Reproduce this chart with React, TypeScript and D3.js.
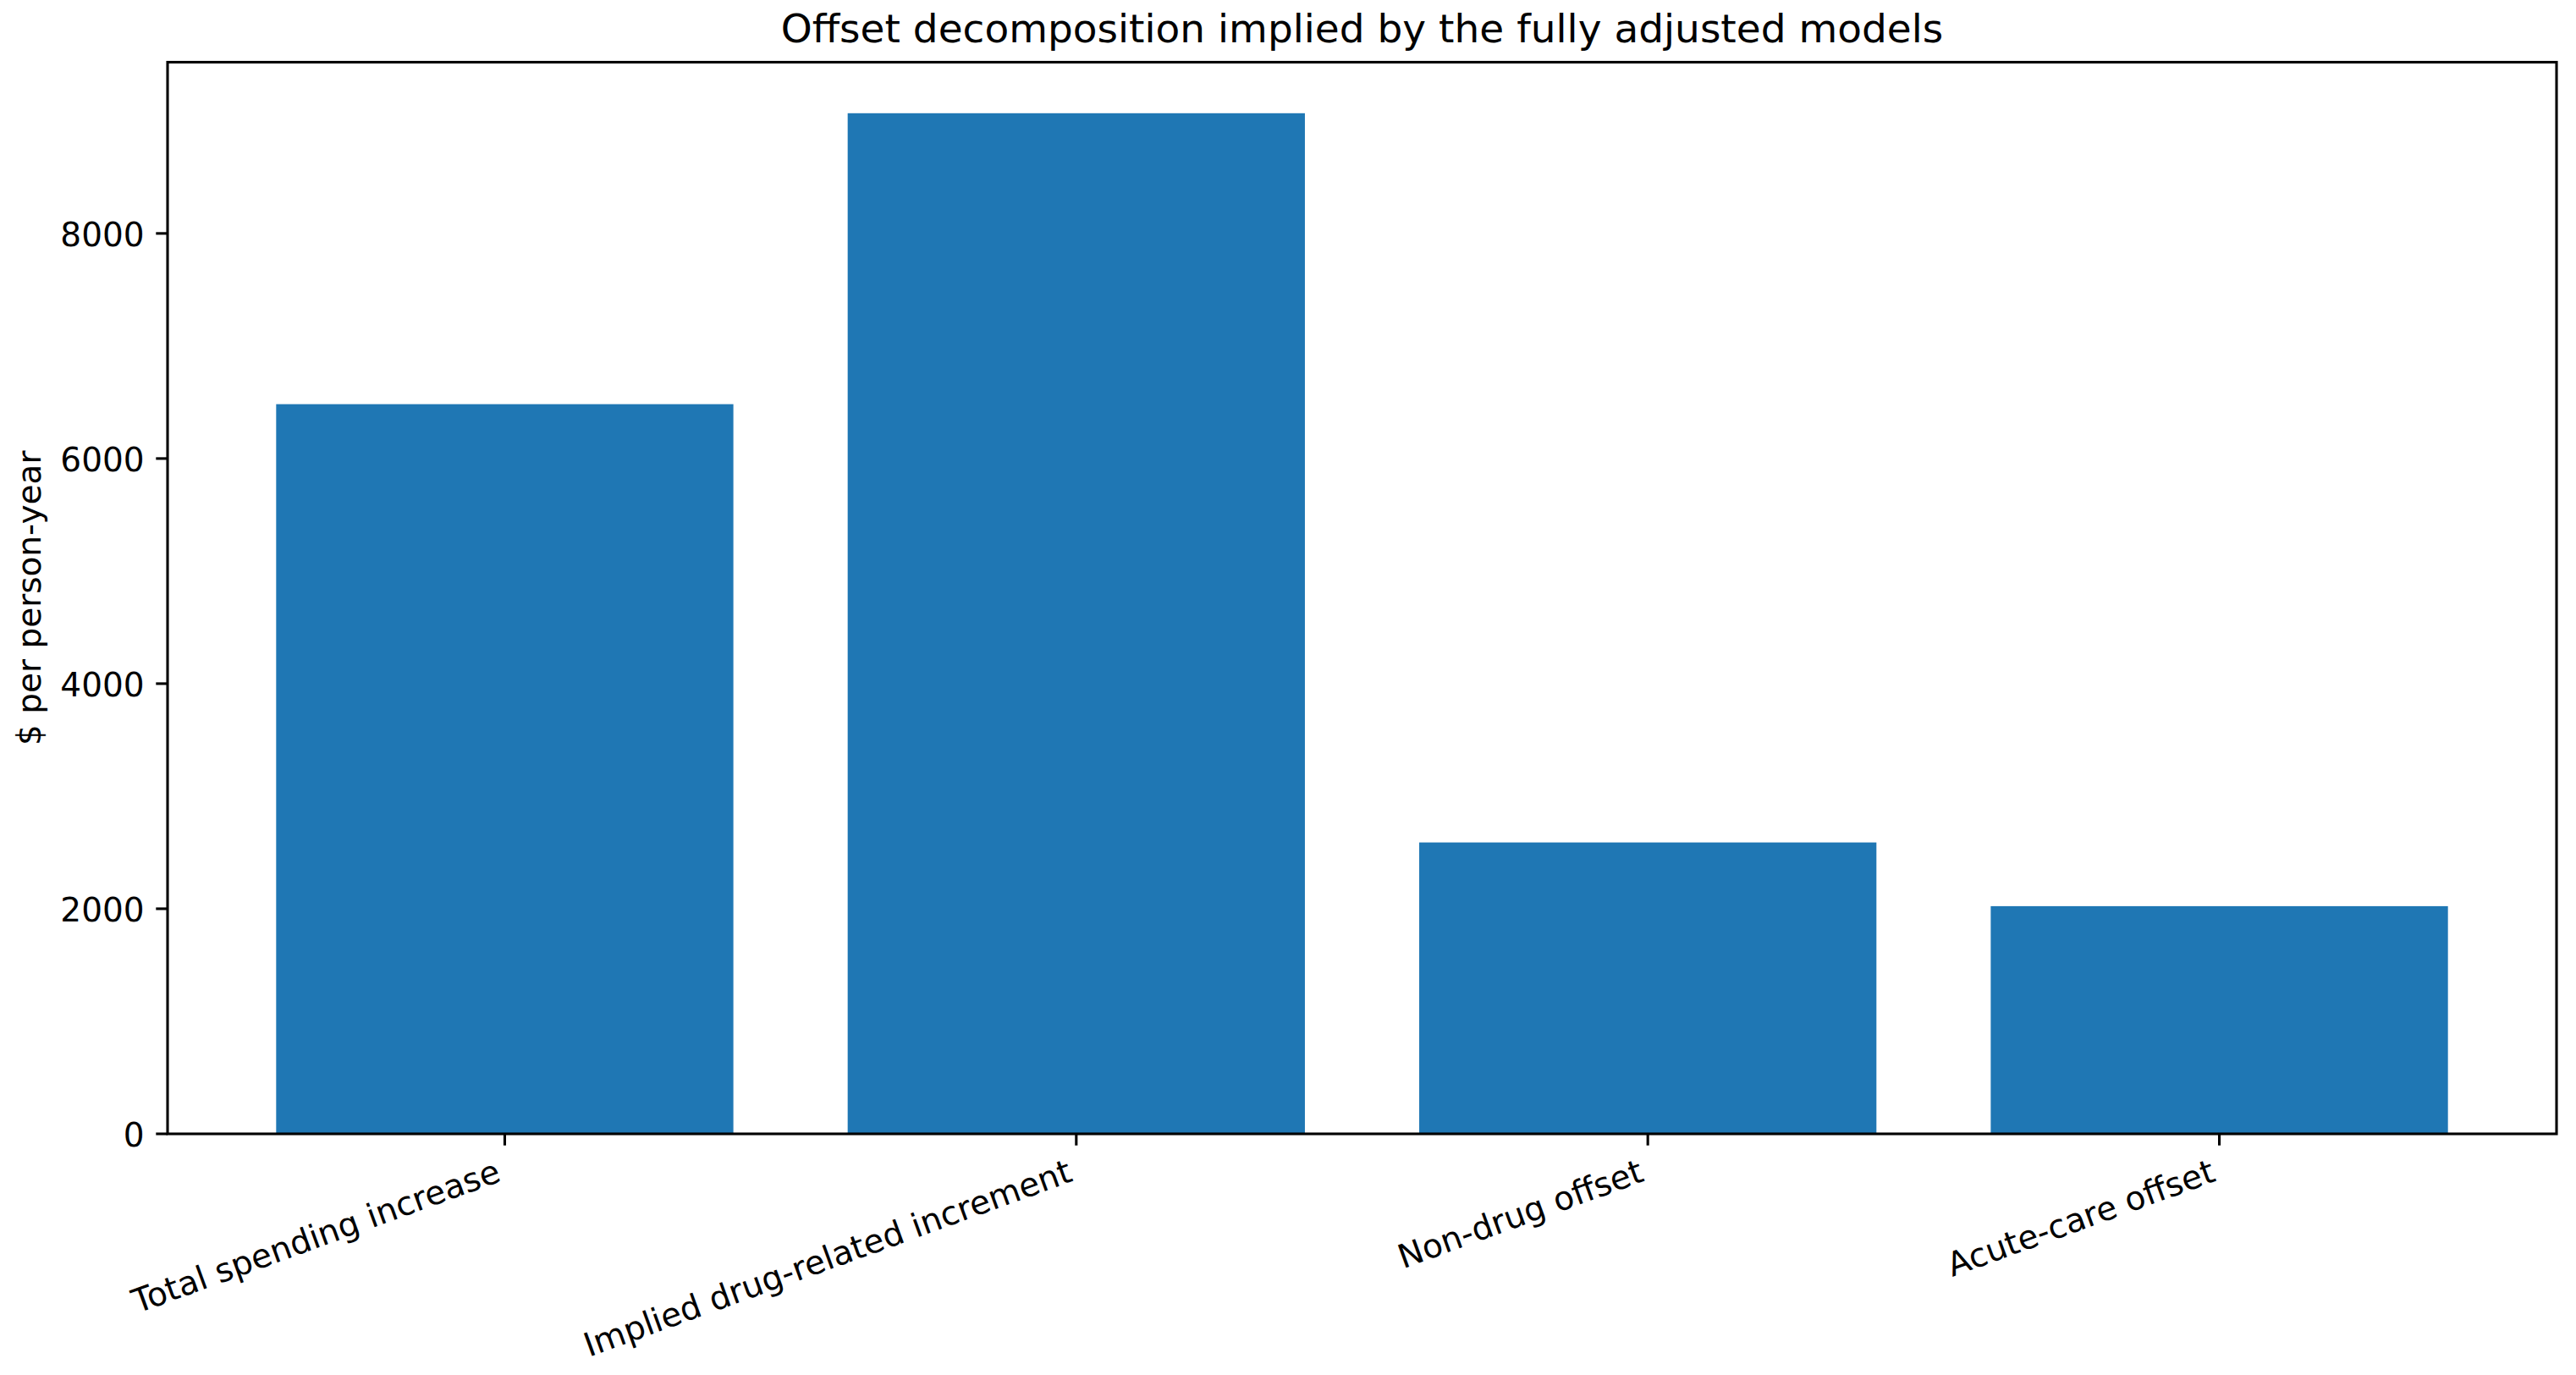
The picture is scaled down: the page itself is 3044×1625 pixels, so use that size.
import React from "react";
import * as d3 from "d3";

const categories = [
  "Total spending increase",
  "Implied drug-related increment",
  "Non-drug offset",
  "Acute-care offset",
];
const values = [6483, 9068, 2589, 2023];
const yTicks = [0, 2000, 4000, 6000, 8000];
const title = "Offset decomposition implied by the fully adjusted models";
const yLabel = "$ per person-year";

const W = 3044;
const H = 1625;
const M = { left: 198, right: 3021, top: 73.5, bottom: 1340 };
const FS = 39;
const TITLE_FS = 47;
const FONT = "'DejaVu Sans', sans-serif";
const TICK_LEN = 13.7;
const PAD = 13.7;
const LW = 3.1;
const ROT = 20;
const TH = 0.968 * FS; // text box height (lp)
const TD = 0.208 * FS; // descent

export default function App() {
  const n = categories.length;
  const x = d3
    .scaleLinear()
    .domain([-0.4 - 0.05 * (n - 1 + 0.8), n - 1 + 0.4 + 0.05 * (n - 1 + 0.8)])
    .range([M.left, M.right]);
  const yMax = d3.max(values)! * 1.05;
  const y = d3.scaleLinear().domain([0, yMax]).range([M.bottom, M.top]);
  const bw = x(0.8) - x(0);
  const rad = (ROT * Math.PI) / 180;
  const labelTop = M.bottom + TICK_LEN + PAD;

  return (
    <svg
      width={W}
      height={H}
      style={{ position: "absolute", left: 0, top: 0, background: "#fff" }}
      fontFamily={FONT}
    >
      <rect x={0} y={0} width={W} height={H} fill="#fff" />
      {values.map((v, i) => (
        <rect
          key={i}
          x={x(i) - bw / 2}
          y={y(v)}
          width={bw}
          height={y(0) - y(v)}
          fill="#1f77b4"
        />
      ))}
      <rect
        x={M.left}
        y={M.top}
        width={M.right - M.left}
        height={M.bottom - M.top}
        fill="none"
        stroke="#000"
        strokeWidth={LW}
        strokeLinejoin="miter"
      />
      {yTicks.map((t) => (
        <g key={t}>
          <line
            x1={M.left - TICK_LEN}
            x2={M.left}
            y1={y(t)}
            y2={y(t)}
            stroke="#000"
            strokeWidth={LW}
          />
          <text
            x={M.left - TICK_LEN - PAD}
            y={y(t) + (TH - TD) / 2}
            fontSize={FS}
            textAnchor="end"
            fill="#000"
          >
            {t}
          </text>
        </g>
      ))}
      {categories.map((c, i) => (
        <g key={c}>
          <line
            x1={x(i)}
            x2={x(i)}
            y1={M.bottom}
            y2={M.bottom + TICK_LEN}
            stroke="#000"
            strokeWidth={LW}
          />
          <g
            transform={`translate(${x(i)},${labelTop + TH * Math.cos(rad)}) rotate(${-ROT})`}
          >
            <text x={0} y={-TD} fontSize={FS} textAnchor="end" fill="#000">
              {c}
            </text>
          </g>
        </g>
      ))}
      <text
        x={(M.left + M.right) / 2}
        y={M.top - 23.5}
        fontSize={TITLE_FS}
        textAnchor="middle"
        fill="#000"
      >
        {title}
      </text>
      <g transform={`translate(${48},${(M.top + M.bottom) / 2}) rotate(-90)`}>
        <text x={0} y={0} fontSize={FS} textAnchor="middle" fill="#000">
          {yLabel}
        </text>
      </g>
    </svg>
  );
}
